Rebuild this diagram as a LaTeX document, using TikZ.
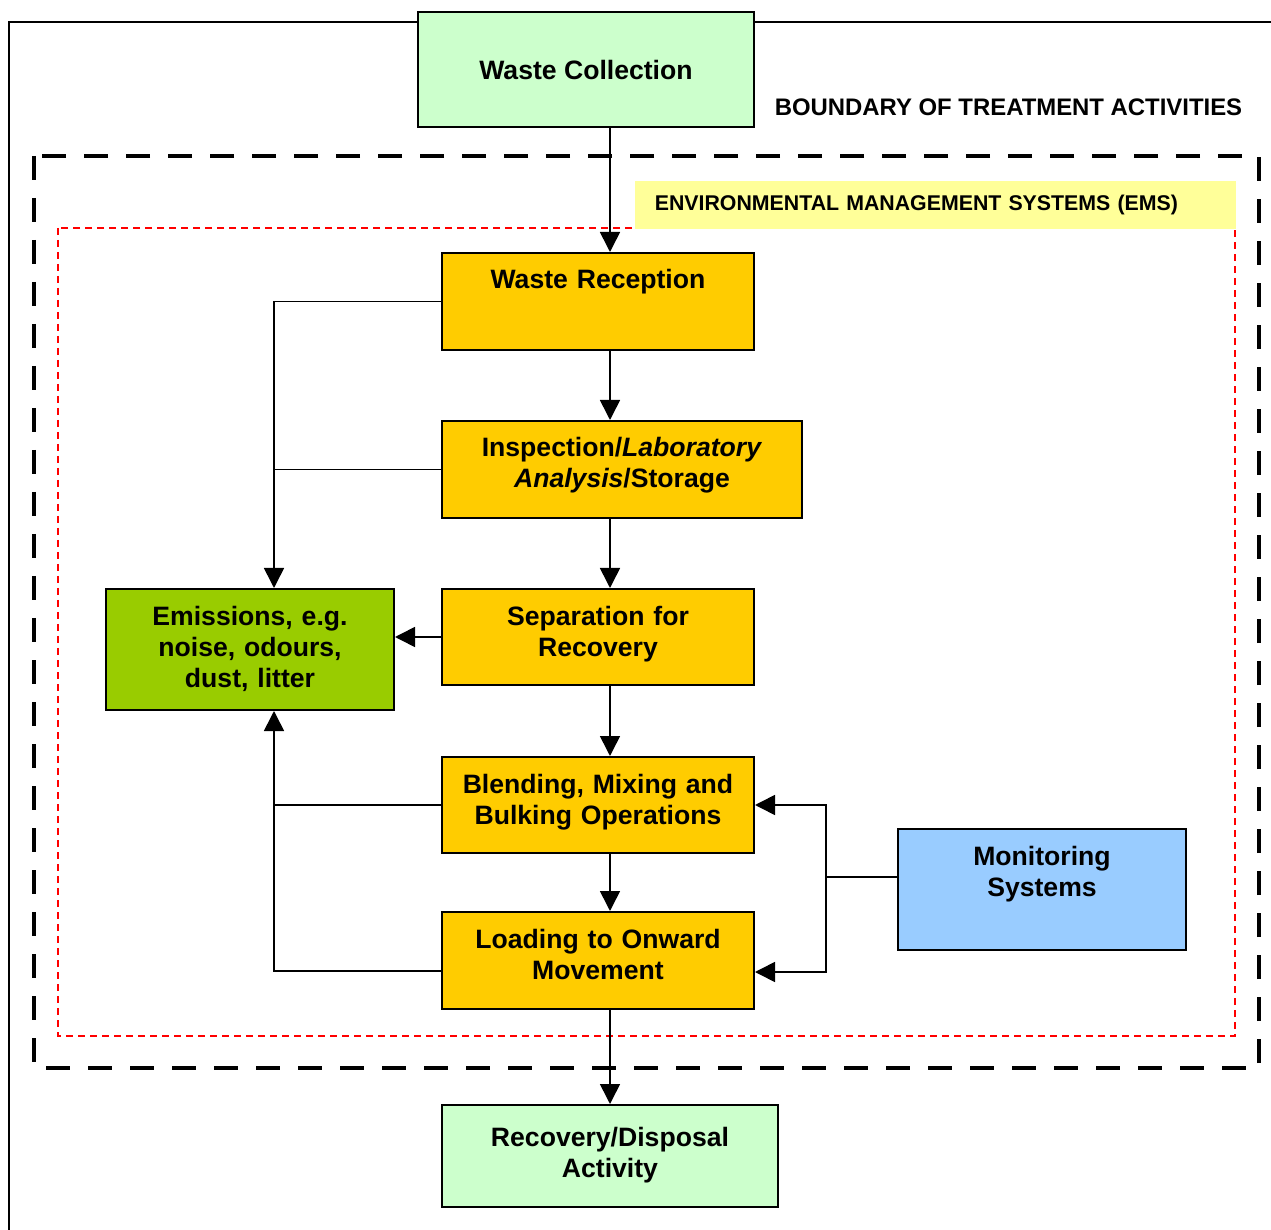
\documentclass[tikz,border=0pt]{standalone}
\usepackage{fontspec}
\setmainfont{Liberation Sans}
\usepackage{tikz}
\usetikzlibrary{arrows.meta}

\definecolor{amber}{HTML}{FFCC00}
\definecolor{mint}{HTML}{CCFFCC}
\definecolor{leaf}{HTML}{99CC00}
\definecolor{sky}{HTML}{99CCFF}
\definecolor{lemon}{HTML}{FFFF99}
\newcommand{\boxfont}{\fontsize{13.3}{15.5}\selectfont\bfseries}

\begin{document}
\begin{tikzpicture}[x=0.5pt,y=-0.5pt,>={Triangle[length=10pt,width=10pt]},line width=0.8pt,
	stage/.style={draw,line width=1pt,fill=amber,anchor=north,align=center,inner sep=0pt,text height=18pt,font=\boxfont},
	end node/.style={draw,line width=1pt,fill=mint,align=center,inner sep=0pt,font=\boxfont},
	boundary/.style={line width=2pt,dash pattern=on 12pt off 9pt},
	ems frame/.style={red,line width=0.75pt,dash pattern=on 3.5pt off 2.5pt}]

	\useasboundingbox (0,0) rectangle (1271,1230);

	% frames
	\draw[line width=0.8pt] (9,22) rectangle (1300,1260);
	\draw[boundary] (34,156) rectangle (1259,1068);
	\draw[ems frame] (58,228) rectangle (1235,1036);
	\node[fill=lemon,anchor=north west,inner xsep=10pt,inner ysep=0pt,minimum height=24pt,text width=280.5pt,align=left,font=\fontsize{10.66}{12}\selectfont\bfseries] (emslbl) at (634,180) {ENVIRONMENTAL MANAGEMENT SYSTEMS (EMS)};
	\node[anchor=west,inner sep=0pt,font=\fontsize{11.95}{14}\selectfont\bfseries] (bndlbl) at (774,107) {BOUNDARY OF TREATMENT ACTIVITIES};

	% boxes
	\node[end node,minimum width=168pt,minimum height=57.5pt] (collect) at (586,69.5) {Waste Collection};
	\node[stage,text width=156pt,text depth=30.5pt] (recep) at (598,252) {Waste Reception};
	\node[stage,text width=180pt,text depth=30.5pt] (inspect) at (622,420) {Inspection/\textit{Laboratory}\\\textit{Analysis}/Storage};
	\node[stage,text width=156pt,text depth=30pt] (separ) at (598,588) {Separation for\\Recovery};
	\node[stage,text width=156pt,text depth=30pt] (blend) at (598,756) {Blending, Mixing and\\Bulking Operations};
	\node[stage,text width=156pt,text depth=30.5pt] (load) at (598,911) {Loading to Onward\\Movement};
	\node[stage,fill=leaf,text width=144pt,text depth=42.5pt] (emis) at (250,588) {Emissions, e.g.\\noise, odours,\\dust, litter};
	\node[stage,fill=sky,text width=144pt,text depth=42.5pt] (monit) at (1042,828) {Monitoring\\Systems};
	\node[stage,fill=mint,text width=168pt,text height=20.5pt,text depth=30.5pt] (recov) at (610,1104) {Recovery/Disposal\\Activity};

	\coordinate (spine) at (610,0);
	\coordinate (lbus) at (274,0);
	\coordinate (lload) at (274,971);
	\coordinate (rbus) at (826,877);
	\coordinate (mtop) at (826,805);
	\coordinate (mbot) at (826,972);

	% main flow
	\draw[->] (collect.south -| spine) -- (recep.north -| spine);
	\draw[->] (recep.south -| spine) -- (inspect.north -| spine);
	\draw[->] (inspect.south -| spine) -- (separ.north -| spine);
	\draw[->] (separ.south -| spine) -- (blend.north -| spine);
	\draw[->] (blend.south -| spine) -- (load.north -| spine);
	\draw[->] (load.south -| spine) -- (recov.north -| spine);

	% emissions
	\draw[->] (recep.west) -| (emis.north -| lbus);
	\draw (inspect.west) -- (inspect.west -| lbus);
	\draw[->] (separ.west) -- (emis.east |- separ.west);
	\draw[->] (blend.west) -| (emis.south -| lbus);
	\draw (load.west |- lload) -- (lload) -- (blend.west -| lbus);

	% monitoring
	\draw (monit.west |- rbus) -- (rbus);
	\draw[->] (rbus) -- (mtop) -- (blend.east |- mtop);
	\draw[->] (rbus) -- (mbot) -- (load.east |- mbot);
\end{tikzpicture}
\end{document}
